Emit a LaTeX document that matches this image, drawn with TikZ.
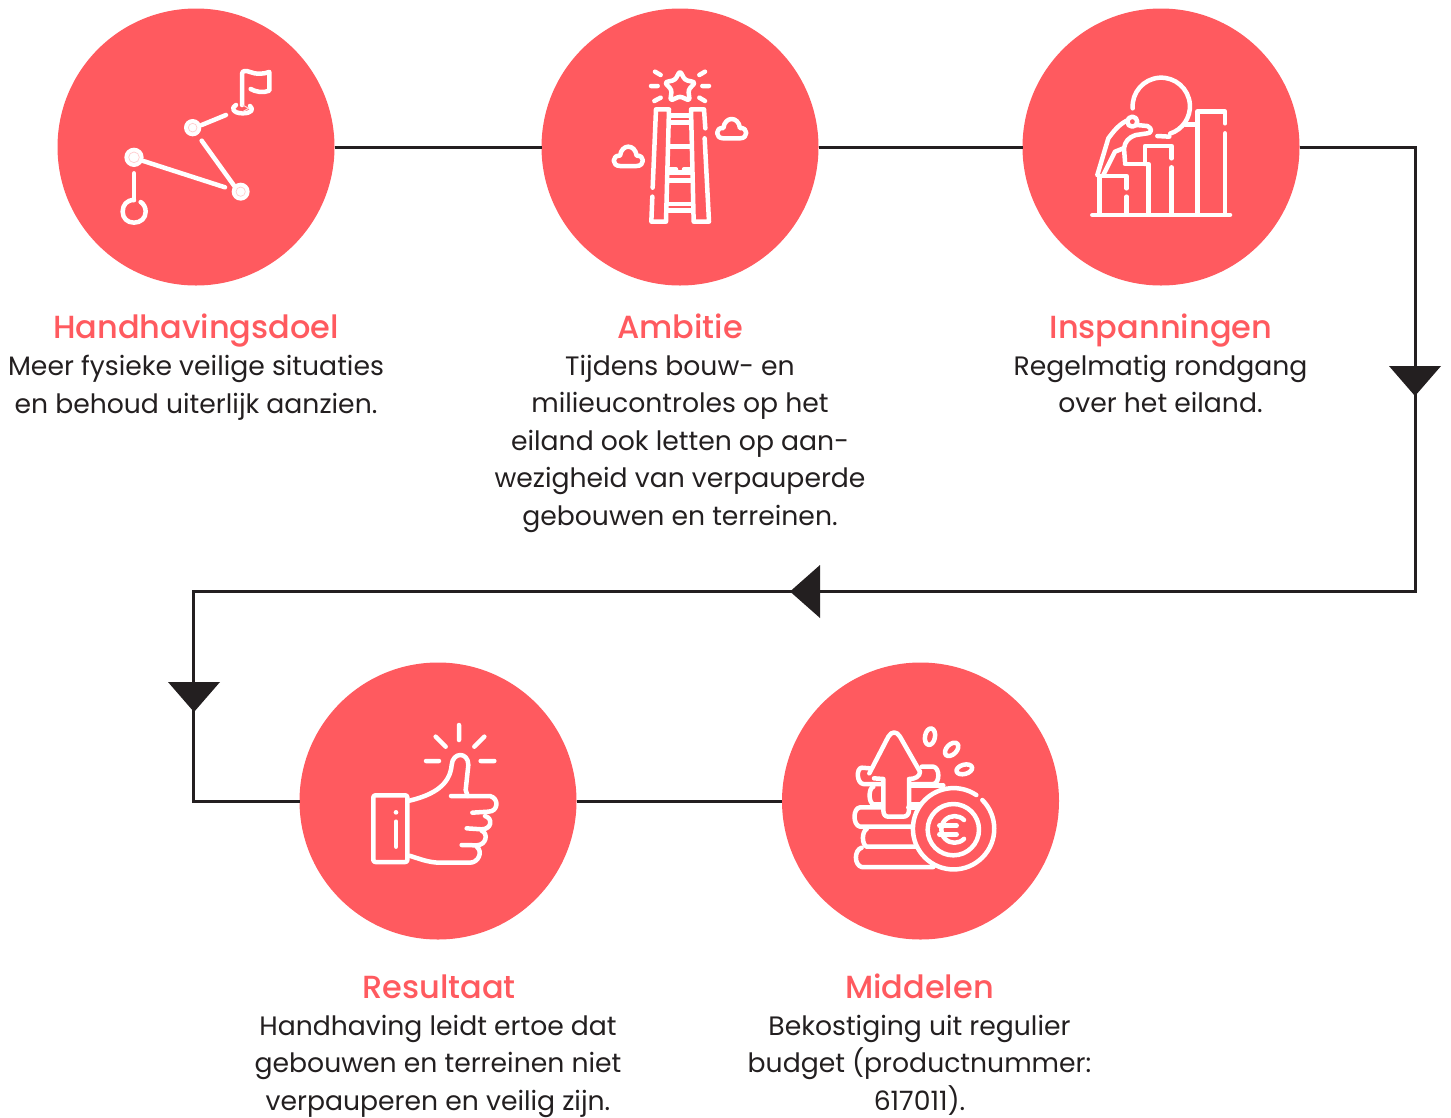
\documentclass[tikz,border=0pt]{standalone}
\usepackage{fontspec}
\setmainfont{Poppins}
\newfontfamily\ttlfont{Poppins Medium}
\usetikzlibrary{calc}
\definecolor{coral}{HTML}{FF5A5F}
\definecolor{ink}{HTML}{231F20}
\tikzset{
  x=1pt,y=-1pt,
  disc/.style={circle,fill=coral,minimum size=277pt,inner sep=0pt,outer sep=0pt},
  conn/.style={draw=ink,line width=3pt,line join=miter},
  tip/.style={fill=ink,draw=none},
  ttl/.style={text=coral,font=\ttlfont\fontsize{32}{36}\selectfont,anchor=base,inner sep=0pt},
  body/.style={text=ink,font=\fontsize{26.65}{37.5}\selectfont,align=center,anchor=north,inner sep=0pt},
  ic/.style={draw=white,line width=4.5pt,line cap=round,line join=round},
  zoomed/.style={x=0.33333pt,y=-0.33333pt},
}
\begin{document}
\begin{tikzpicture}
\useasboundingbox (0,0) rectangle (1451,1117);
\node[disc] (c1) at (196,147) {};
\node[disc] (c2) at (680,147) {};
\node[disc] (c3) at (1161,147) {};
\node[disc] (c4) at (438,801) {};
\node[disc] (c5) at (920.5,801) {};
\coordinate (k1) at (1415,147);
\coordinate (k2) at (1415,591);
\coordinate (k3) at (193,591);
\coordinate (k4) at (193,801);
\draw[conn] (c1) -- (c2);
\draw[conn] (c2) -- (c3);
\draw[conn] (c3) -- (k1) -- (k2) -- (k3) -- (k4) -- (c4);
\draw[conn] (c4) -- (c5);
\fill[tip] (1389,366) -- (1441,366) -- (1415,396) -- cycle;
\fill[tip] (820,565) -- (820,618) -- (790,591.5) -- cycle;
\fill[tip] (168,682) -- (220,682) -- (194,712) -- cycle;

% icon 1
\begin{scope}[shift={(100,50)},zoomed]
\draw[ic] (426,165) -- (426,72) .. controls (426,60) and (440,62) .. (450,66) .. controls (470,74) and (490,72) .. (508,66) -- (508,122) .. controls (490,130) and (465,125) .. (452,117);
\draw[ic] (408,165) .. controls (392,172) and (398,190) .. (428,190) .. controls (455,190) and (462,178) .. (450,168);
\draw[ic,line width=1pt,draw=white!80!coral] (428,165) -- (446,175) -- (428,185);
\draw[ic] (305,225) -- (378,195);
\draw[ic] (305,272) -- (403,408);
\draw[ic] (130,333) -- (375,412);
\draw[ic] (102,370) -- (102,450);
\fill[white] (278,233) circle (26);
\draw[draw=coral!30!white,line width=0.7pt] (278,233) circle (13);
\fill[white] (102,322) circle (29);
\draw[draw=coral!30!white,line width=0.7pt] (102,322) circle (16);
\fill[white] (422,425) circle (27);
\draw[draw=coral!30!white,line width=0.7pt] (422,425) circle (14);
\draw[ic] (102,450) .. controls (80,450) and (68,465) .. (68,485) .. controls (68,505) and (82,518) .. (102,518) .. controls (122,518) and (137,505) .. (137,485) .. controls (137,472) and (131,462) .. (122,456);
\end{scope}

% icon 2
\begin{scope}[shift={(590,50)},zoomed]
\draw[ic,rounded corners=2.5pt] (270,63) -- (285,90) -- (316,97) -- (295,120) -- (299,152) -- (270,139) -- (241,152) -- (245,120) -- (224,97) -- (255,90) -- cycle;
\draw[ic] (195,65) -- (212,75) (183,108) -- (203,108) (193,153) -- (212,143)
          (345,65) -- (328,75) (337,108) -- (357,108) (345,153) -- (328,143);
\draw[ic] (188,413) -- (198,178) -- (237,178) -- (228,515) -- (184,515) -- (187,440);
\draw[ic] (346,235) -- (342,178) -- (303,178) -- (311,515) -- (357,515) -- (344,265);
\draw[ic] (240,197) -- (302,197) (240,217) -- (302,217) (238,290) -- (304,290)
  (236,358) -- (258,358) (282,358) -- (304,358) (236,368) -- (305,368)
  (234,392) -- (306,392) (232,462) -- (307,462) (232,482) -- (308,482);
\draw[ic] (400,265) .. controls (375,265) and (375,232) .. (400,234) .. controls (405,198) and (445,198) .. (450,234) .. controls (475,232) and (475,265) .. (450,265) -- cycle;
\draw[ic] (90,348) .. controls (65,348) and (65,315) .. (90,317) .. controls (95,281) and (135,281) .. (140,317) .. controls (165,315) and (165,348) .. (140,348) -- cycle;
\end{scope}

% icon 3
\begin{scope}[shift={(1070,60)},zoomed]
\draw[ic] (188,145) arc[start angle=176,end angle=432,radius=86];
\draw[ic] (262,228) -- (298,230);
\draw[ic] (88,348) -- (170,348) -- (170,385) (170,410) -- (170,458) (88,348) -- (88,458);
\draw[ic] (165,312) -- (235,312) -- (235,458);
\draw[ic] (225,312) -- (225,258) -- (305,258) -- (305,295) (305,322) -- (305,458);
\draw[ic] (345,193) -- (382,193);
\draw[ic] (382,458) -- (382,155) -- (465,155) -- (465,190) (465,220) -- (465,458);
\draw[ic] (67,465) -- (480,465);
\draw[ic] (187,185) circle (15);
\draw[ic] (82,345) -- (115,235) .. controls (130,215) and (145,195) .. (170,182);
\draw[ic] (200,195) -- (232,198) .. controls (248,205) and (245,220) .. (232,220) -- (198,225) .. controls (175,232) and (165,245) .. (162,265) -- (165,305);
\draw[ic] (100,345) -- (135,275) -- (160,265);
\end{scope}

% icon 4
\begin{scope}[shift={(350,710)},zoomed]
\draw[ic,rounded corners=2pt] (70,256) rectangle (172,456);
\fill[white] (138,307) circle (7);
\draw[ic] (138,335) -- (138,410);
\draw[ic] (327,45) -- (327,90) (257,80) -- (287,110) (403,80) -- (373,110) (228,153) -- (267,153) (392,153) -- (433,153);
\draw[ic] (178,272) .. controls (250,255) and (300,225) .. (305,165) .. controls (308,125) and (355,125) .. (355,165) -- (347,240) -- (353,258);
\draw[ic] (303,258) -- (420,258) .. controls (448,265) and (445,305) .. (415,305) -- (367,308);
\draw[ic] (405,318) .. controls (430,325) and (425,358) .. (395,358) -- (350,355);
\draw[ic] (395,362) .. controls (415,370) and (410,405) .. (380,406) -- (335,405);
\draw[ic] (380,410) .. controls (400,425) and (385,458) .. (360,458) -- (270,458) .. controls (235,458) and (205,445) .. (178,437);
\end{scope}

% icon 5
\begin{scope}[shift={(840,715)},zoomed]
\draw[ic] (90,160) -- (65,158) .. controls (48,160) and (50,205) .. (70,207) -- (128,207);
\draw[ic] (245,155) -- (280,155) .. controls (300,158) and (300,205) .. (280,207) -- (208,207);
\draw[ic] (100,215) .. controls (85,220) and (85,262) .. (100,268) -- (128,268);
\draw[ic] (208,212) -- (310,212);
\draw[ic] (208,268) -- (250,268);
\draw[ic] (125,277) -- (60,277) .. controls (38,280) and (38,330) .. (60,335) -- (230,335);
\draw[ic] (205,277) -- (240,277);
\draw[ic] (80,342) .. controls (65,350) and (65,388) .. (80,395) -- (230,395);
\draw[ic] (65,398) .. controls (42,405) and (42,450) .. (65,456) -- (280,456);
\draw[ic] (88,175) -- (145,65) .. controls (155,48) and (170,48) .. (180,65) -- (240,170) .. controls (240,185) and (225,192) .. (207,192) -- (207,285) .. controls (207,298) and (200,305) .. (190,305) -- (145,305) .. controls (135,305) and (130,298) .. (130,285) -- (130,192) -- (102,190);
\fill[coral] (341,341) circle (122);
\draw[ic] (427,255) arc[start angle=-45,end angle=304,radius=122];
\draw[ic] (340,344) circle (77);
\draw[ic] (372,315) arc[start angle=-45,end angle=-315,radius=40];
\draw[ic] (298,332) -- (350,332) (298,358) -- (350,358);
\draw[ic,rotate around={-10:(270,65)}] (270,65) ellipse (15 and 25);
\draw[ic,rotate around={-45:(335,103)}] (335,103) ellipse (15 and 24);
\draw[ic,rotate around={-75:(373,163)}] (373,163) ellipse (14 and 24);
\end{scope}

% labels
\node[ttl] (t1) at (196,338) {Handhavingsdoel};
\node[body] (b1) at (196,355) {Meer fysieke veilige situaties\\en behoud uiterlijk aanzien.};
\node[ttl] (t2) at (680,338) {Ambitie};
\node[body] (b2) at (680,355) {Tijdens bouw- en\\milieucontroles op het\\eiland ook letten op aan-\\wezigheid van verpauperde\\gebouwen en terreinen.};
\node[ttl] (t3) at (1161,338) {Inspanningen};
\node[body] (b3) at (1160.5,355) {Regelmatig rondgang\\over het eiland.};
\node[ttl] (t4) at (439,998) {Resultaat};
\node[body] (b4) at (438,1015) {Handhaving leidt ertoe dat\\gebouwen en terreinen niet\\verpauperen en veilig zijn.};
\node[ttl] (t5) at (919.5,998) {Middelen};
\node[body] (b5) at (919.5,1015) {Bekostiging uit regulier\\budget (productnummer:\\617011).};
\end{tikzpicture}
\end{document}
